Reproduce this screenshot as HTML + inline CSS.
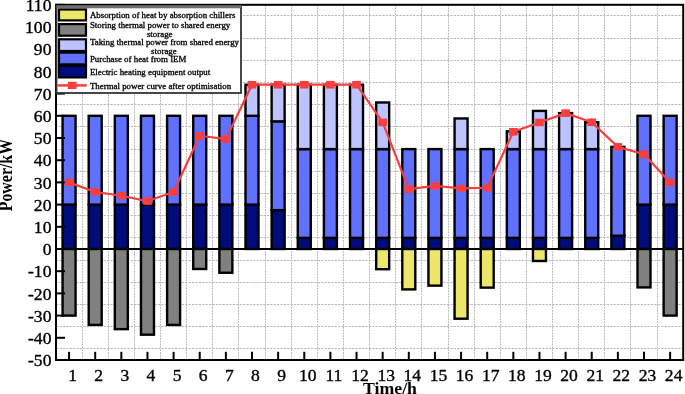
<!DOCTYPE html><html><head><meta charset="utf-8"><style>html,body{margin:0;padding:0;background:#fff;}svg{display:block;will-change:transform;}text{font-family:"Liberation Serif",serif;}</style></head><body>
<svg width="685" height="394" viewBox="0 0 685 394">
<rect width="685" height="394" fill="#fff"/>
<g stroke="#b8b8b8" stroke-width="1" stroke-dasharray="2.2 1.2" fill="none"><line x1="56.0" y1="348.50" x2="683.2" y2="348.50"/><line x1="56.0" y1="326.50" x2="683.2" y2="326.50"/><line x1="56.0" y1="304.50" x2="683.2" y2="304.50"/><line x1="56.0" y1="282.50" x2="683.2" y2="282.50"/><line x1="56.0" y1="260.50" x2="683.2" y2="260.50"/><line x1="56.0" y1="237.50" x2="683.2" y2="237.50"/><line x1="56.0" y1="215.50" x2="683.2" y2="215.50"/><line x1="56.0" y1="193.50" x2="683.2" y2="193.50"/><line x1="56.0" y1="171.50" x2="683.2" y2="171.50"/><line x1="56.0" y1="149.50" x2="683.2" y2="149.50"/><line x1="56.0" y1="126.50" x2="683.2" y2="126.50"/><line x1="56.0" y1="104.50" x2="683.2" y2="104.50"/><line x1="56.0" y1="82.50" x2="683.2" y2="82.50"/><line x1="56.0" y1="60.50" x2="683.2" y2="60.50"/><line x1="56.0" y1="38.50" x2="683.2" y2="38.50"/><line x1="56.0" y1="15.50" x2="683.2" y2="15.50"/></g>
<g stroke="#b8b8b8" stroke-width="1" stroke-dasharray="1.8 1.0" fill="none"><line x1="82.50" y1="4.8" x2="82.50" y2="360.0"/><line x1="108.50" y1="4.8" x2="108.50" y2="360.0"/><line x1="134.50" y1="4.8" x2="134.50" y2="360.0"/><line x1="160.50" y1="4.8" x2="160.50" y2="360.0"/><line x1="186.50" y1="4.8" x2="186.50" y2="360.0"/><line x1="212.50" y1="4.8" x2="212.50" y2="360.0"/><line x1="238.50" y1="4.8" x2="238.50" y2="360.0"/><line x1="265.50" y1="4.8" x2="265.50" y2="360.0"/><line x1="291.50" y1="4.8" x2="291.50" y2="360.0"/><line x1="317.50" y1="4.8" x2="317.50" y2="360.0"/><line x1="343.50" y1="4.8" x2="343.50" y2="360.0"/><line x1="369.50" y1="4.8" x2="369.50" y2="360.0"/><line x1="395.50" y1="4.8" x2="395.50" y2="360.0"/><line x1="421.50" y1="4.8" x2="421.50" y2="360.0"/><line x1="448.50" y1="4.8" x2="448.50" y2="360.0"/><line x1="474.50" y1="4.8" x2="474.50" y2="360.0"/><line x1="500.50" y1="4.8" x2="500.50" y2="360.0"/><line x1="526.50" y1="4.8" x2="526.50" y2="360.0"/><line x1="552.50" y1="4.8" x2="552.50" y2="360.0"/><line x1="578.50" y1="4.8" x2="578.50" y2="360.0"/><line x1="604.50" y1="4.8" x2="604.50" y2="360.0"/><line x1="630.50" y1="4.8" x2="630.50" y2="360.0"/><line x1="657.50" y1="4.8" x2="657.50" y2="360.0"/></g>
<g stroke="#000" stroke-width="2.4"><rect x="62.57" y="204.60" width="13.00" height="44.40" fill="#000c7c"/><rect x="62.57" y="115.80" width="13.00" height="88.80" fill="#6070ff"/><rect x="62.57" y="249.00" width="13.00" height="66.60" fill="#808080"/><rect x="88.70" y="204.60" width="13.00" height="44.40" fill="#000c7c"/><rect x="88.70" y="115.80" width="13.00" height="88.80" fill="#6070ff"/><rect x="88.70" y="249.00" width="13.00" height="75.92" fill="#808080"/><rect x="114.83" y="204.60" width="13.00" height="44.40" fill="#000c7c"/><rect x="114.83" y="115.80" width="13.00" height="88.80" fill="#6070ff"/><rect x="114.83" y="249.00" width="13.00" height="80.14" fill="#808080"/><rect x="140.97" y="204.60" width="13.00" height="44.40" fill="#000c7c"/><rect x="140.97" y="115.80" width="13.00" height="88.80" fill="#6070ff"/><rect x="140.97" y="249.00" width="13.00" height="85.69" fill="#808080"/><rect x="167.10" y="204.60" width="13.00" height="44.40" fill="#000c7c"/><rect x="167.10" y="115.80" width="13.00" height="88.80" fill="#6070ff"/><rect x="167.10" y="249.00" width="13.00" height="75.92" fill="#808080"/><rect x="193.23" y="204.60" width="13.00" height="44.40" fill="#000c7c"/><rect x="193.23" y="115.80" width="13.00" height="88.80" fill="#6070ff"/><rect x="193.23" y="249.00" width="13.00" height="19.98" fill="#808080"/><rect x="219.37" y="204.60" width="13.00" height="44.40" fill="#000c7c"/><rect x="219.37" y="115.80" width="13.00" height="88.80" fill="#6070ff"/><rect x="219.37" y="249.00" width="13.00" height="23.75" fill="#808080"/><rect x="245.50" y="204.60" width="13.00" height="44.40" fill="#000c7c"/><rect x="245.50" y="115.80" width="13.00" height="88.80" fill="#6070ff"/><rect x="245.50" y="84.72" width="13.00" height="31.08" fill="#bcc3ff"/><rect x="271.63" y="210.15" width="13.00" height="38.85" fill="#000c7c"/><rect x="271.63" y="121.35" width="13.00" height="88.80" fill="#6070ff"/><rect x="271.63" y="84.72" width="13.00" height="36.63" fill="#bcc3ff"/><rect x="297.77" y="237.90" width="13.00" height="11.10" fill="#000c7c"/><rect x="297.77" y="149.10" width="13.00" height="88.80" fill="#6070ff"/><rect x="297.77" y="84.72" width="13.00" height="64.38" fill="#bcc3ff"/><rect x="323.90" y="237.90" width="13.00" height="11.10" fill="#000c7c"/><rect x="323.90" y="149.10" width="13.00" height="88.80" fill="#6070ff"/><rect x="323.90" y="84.72" width="13.00" height="64.38" fill="#bcc3ff"/><rect x="350.03" y="237.90" width="13.00" height="11.10" fill="#000c7c"/><rect x="350.03" y="149.10" width="13.00" height="88.80" fill="#6070ff"/><rect x="350.03" y="84.72" width="13.00" height="64.38" fill="#bcc3ff"/><rect x="376.17" y="237.90" width="13.00" height="11.10" fill="#000c7c"/><rect x="376.17" y="149.10" width="13.00" height="88.80" fill="#6070ff"/><rect x="376.17" y="102.48" width="13.00" height="46.62" fill="#bcc3ff"/><rect x="376.17" y="249.00" width="13.00" height="20.20" fill="#ece66b"/><rect x="402.30" y="237.90" width="13.00" height="11.10" fill="#000c7c"/><rect x="402.30" y="149.10" width="13.00" height="88.80" fill="#6070ff"/><rect x="402.30" y="249.00" width="13.00" height="40.40" fill="#ece66b"/><rect x="428.43" y="237.90" width="13.00" height="11.10" fill="#000c7c"/><rect x="428.43" y="149.10" width="13.00" height="88.80" fill="#6070ff"/><rect x="428.43" y="249.00" width="13.00" height="36.63" fill="#ece66b"/><rect x="454.57" y="237.90" width="13.00" height="11.10" fill="#000c7c"/><rect x="454.57" y="149.10" width="13.00" height="88.80" fill="#6070ff"/><rect x="454.57" y="118.46" width="13.00" height="30.64" fill="#bcc3ff"/><rect x="454.57" y="249.00" width="13.00" height="69.71" fill="#ece66b"/><rect x="480.70" y="237.90" width="13.00" height="11.10" fill="#000c7c"/><rect x="480.70" y="149.10" width="13.00" height="88.80" fill="#6070ff"/><rect x="480.70" y="249.00" width="13.00" height="38.63" fill="#ece66b"/><rect x="506.83" y="237.90" width="13.00" height="11.10" fill="#000c7c"/><rect x="506.83" y="149.10" width="13.00" height="88.80" fill="#6070ff"/><rect x="506.83" y="131.34" width="13.00" height="17.76" fill="#bcc3ff"/><rect x="532.97" y="237.90" width="13.00" height="11.10" fill="#000c7c"/><rect x="532.97" y="149.10" width="13.00" height="88.80" fill="#6070ff"/><rect x="532.97" y="110.92" width="13.00" height="38.18" fill="#bcc3ff"/><rect x="532.97" y="249.00" width="13.00" height="11.99" fill="#ece66b"/><rect x="559.10" y="237.90" width="13.00" height="11.10" fill="#000c7c"/><rect x="559.10" y="149.10" width="13.00" height="88.80" fill="#6070ff"/><rect x="559.10" y="113.14" width="13.00" height="35.96" fill="#bcc3ff"/><rect x="585.23" y="237.90" width="13.00" height="11.10" fill="#000c7c"/><rect x="585.23" y="149.10" width="13.00" height="88.80" fill="#6070ff"/><rect x="585.23" y="122.24" width="13.00" height="26.86" fill="#bcc3ff"/><rect x="611.37" y="235.68" width="13.00" height="13.32" fill="#000c7c"/><rect x="611.37" y="146.88" width="13.00" height="88.80" fill="#6070ff"/><rect x="637.50" y="204.60" width="13.00" height="44.40" fill="#000c7c"/><rect x="637.50" y="115.80" width="13.00" height="88.80" fill="#6070ff"/><rect x="637.50" y="249.00" width="13.00" height="38.41" fill="#808080"/><rect x="663.63" y="204.60" width="13.00" height="44.40" fill="#000c7c"/><rect x="663.63" y="115.80" width="13.00" height="88.80" fill="#6070ff"/><rect x="663.63" y="249.00" width="13.00" height="66.60" fill="#808080"/></g>
<line x1="56.0" y1="249.00" x2="683.2" y2="249.00" stroke="#000" stroke-width="2"/>
<g stroke="#000" stroke-width="2"><line x1="56.0" y1="360.00" x2="65.00" y2="360.00"/><line x1="56.0" y1="337.80" x2="65.00" y2="337.80"/><line x1="56.0" y1="315.60" x2="65.00" y2="315.60"/><line x1="56.0" y1="293.40" x2="65.00" y2="293.40"/><line x1="56.0" y1="271.20" x2="65.00" y2="271.20"/><line x1="56.0" y1="249.00" x2="65.00" y2="249.00"/><line x1="56.0" y1="226.80" x2="65.00" y2="226.80"/><line x1="56.0" y1="204.60" x2="65.00" y2="204.60"/><line x1="56.0" y1="182.40" x2="65.00" y2="182.40"/><line x1="56.0" y1="160.20" x2="65.00" y2="160.20"/><line x1="56.0" y1="138.00" x2="65.00" y2="138.00"/><line x1="56.0" y1="115.80" x2="65.00" y2="115.80"/><line x1="56.0" y1="93.60" x2="65.00" y2="93.60"/><line x1="56.0" y1="71.40" x2="65.00" y2="71.40"/><line x1="56.0" y1="49.20" x2="65.00" y2="49.20"/><line x1="56.0" y1="27.00" x2="65.00" y2="27.00"/><line x1="56.0" y1="4.80" x2="65.00" y2="4.80"/><line x1="69.07" y1="360.0" x2="69.07" y2="351.80"/><line x1="95.20" y1="360.0" x2="95.20" y2="351.80"/><line x1="121.33" y1="360.0" x2="121.33" y2="351.80"/><line x1="147.47" y1="360.0" x2="147.47" y2="351.80"/><line x1="173.60" y1="360.0" x2="173.60" y2="351.80"/><line x1="199.73" y1="360.0" x2="199.73" y2="351.80"/><line x1="225.87" y1="360.0" x2="225.87" y2="351.80"/><line x1="252.00" y1="360.0" x2="252.00" y2="351.80"/><line x1="278.13" y1="360.0" x2="278.13" y2="351.80"/><line x1="304.27" y1="360.0" x2="304.27" y2="351.80"/><line x1="330.40" y1="360.0" x2="330.40" y2="351.80"/><line x1="356.53" y1="360.0" x2="356.53" y2="351.80"/><line x1="382.67" y1="360.0" x2="382.67" y2="351.80"/><line x1="408.80" y1="360.0" x2="408.80" y2="351.80"/><line x1="434.93" y1="360.0" x2="434.93" y2="351.80"/><line x1="461.07" y1="360.0" x2="461.07" y2="351.80"/><line x1="487.20" y1="360.0" x2="487.20" y2="351.80"/><line x1="513.33" y1="360.0" x2="513.33" y2="351.80"/><line x1="539.47" y1="360.0" x2="539.47" y2="351.80"/><line x1="565.60" y1="360.0" x2="565.60" y2="351.80"/><line x1="591.73" y1="360.0" x2="591.73" y2="351.80"/><line x1="617.87" y1="360.0" x2="617.87" y2="351.80"/><line x1="644.00" y1="360.0" x2="644.00" y2="351.80"/><line x1="670.13" y1="360.0" x2="670.13" y2="351.80"/></g>
<polyline points="69.07,182.40 95.20,191.95 121.33,195.72 147.47,201.05 173.60,191.95 199.73,135.78 225.87,139.11 252.00,84.72 278.13,84.72 304.27,84.72 330.40,84.72 356.53,84.72 382.67,122.46 408.80,189.06 434.93,185.95 461.07,188.39 487.20,187.73 513.33,131.78 539.47,122.46 565.60,113.14 591.73,122.24 617.87,146.88 644.00,154.21 670.13,182.40" fill="none" stroke="#f83e3e" stroke-width="2.2" stroke-linejoin="round"/>
<g fill="#f83e3e"><rect x="64.77" y="178.60" width="8.6" height="7.6"/><rect x="90.90" y="188.15" width="8.6" height="7.6"/><rect x="117.03" y="191.92" width="8.6" height="7.6"/><rect x="143.17" y="197.25" width="8.6" height="7.6"/><rect x="169.30" y="188.15" width="8.6" height="7.6"/><rect x="195.43" y="131.98" width="8.6" height="7.6"/><rect x="221.57" y="135.31" width="8.6" height="7.6"/><rect x="247.70" y="80.92" width="8.6" height="7.6"/><rect x="273.83" y="80.92" width="8.6" height="7.6"/><rect x="299.97" y="80.92" width="8.6" height="7.6"/><rect x="326.10" y="80.92" width="8.6" height="7.6"/><rect x="352.23" y="80.92" width="8.6" height="7.6"/><rect x="378.37" y="118.66" width="8.6" height="7.6"/><rect x="404.50" y="185.26" width="8.6" height="7.6"/><rect x="430.63" y="182.15" width="8.6" height="7.6"/><rect x="456.77" y="184.59" width="8.6" height="7.6"/><rect x="482.90" y="183.93" width="8.6" height="7.6"/><rect x="509.03" y="127.98" width="8.6" height="7.6"/><rect x="535.17" y="118.66" width="8.6" height="7.6"/><rect x="561.30" y="109.34" width="8.6" height="7.6"/><rect x="587.43" y="118.44" width="8.6" height="7.6"/><rect x="613.57" y="143.08" width="8.6" height="7.6"/><rect x="639.70" y="150.41" width="8.6" height="7.6"/><rect x="665.83" y="178.60" width="8.6" height="7.6"/></g>
<rect x="56.0" y="4.8" width="627.20" height="355.20" fill="none" stroke="#000" stroke-width="2"/>
<rect x="56.5" y="6" width="184.50" height="87.00" fill="#fff" stroke="#333" stroke-width="1.8"/>
<rect x="56.5" y="5.3" width="184.50" height="3.0" fill="#6e6e6e"/>
<rect x="59" y="9.5" width="27" height="10.899999999999999" fill="#ece66b" stroke="#000" stroke-width="2.2"/>
<rect x="59" y="24.1" width="27" height="11.600000000000001" fill="#808080" stroke="#000" stroke-width="2.2"/>
<rect x="59" y="39.3" width="27" height="11.700000000000003" fill="#bcc3ff" stroke="#000" stroke-width="2.2"/>
<rect x="59" y="52.6" width="27" height="11.800000000000004" fill="#6070ff" stroke="#000" stroke-width="2.2"/>
<rect x="59" y="65.8" width="27" height="11.600000000000009" fill="#000c7c" stroke="#000" stroke-width="2.2"/>
<line x1="57.5" y1="85.4" x2="86.7" y2="85.4" stroke="#f83e3e" stroke-width="2.5"/>
<rect x="67.8" y="81.8" width="8.8" height="7.2" fill="#f83e3e"/>
<text transform="translate(89.9,17.8) scale(1.07,1)" font-size="8.3" stroke="#000" stroke-width="0.3">Absorption of heat by absorption chillers</text>
<text transform="translate(89.9,27.6) scale(1.07,1)" font-size="8.3" stroke="#000" stroke-width="0.3">Storing thermal power to shared energy</text>
<text transform="translate(159.7,37.3) scale(1.07,1)" font-size="8.3" text-anchor="middle" stroke="#000" stroke-width="0.3">storage</text>
<text transform="translate(89.9,44.6) scale(1.07,1)" font-size="8.3" stroke="#000" stroke-width="0.3">Taking thermal power from shared energy</text>
<text transform="translate(163.9,53.9) scale(1.07,1)" font-size="8.3" text-anchor="middle" stroke="#000" stroke-width="0.3">storage</text>
<text transform="translate(89.9,61.9) scale(1.07,1)" font-size="8.3" stroke="#000" stroke-width="0.3">Purchase of heat from IEM</text>
<text transform="translate(89.9,75.2) scale(1.07,1)" font-size="8.3" stroke="#000" stroke-width="0.3">Electric heating equipment output</text>
<text transform="translate(89.9,88.9) scale(1.07,1)" font-size="8.3" stroke="#000" stroke-width="0.3">Thermal power curve after optimisation</text>
<text transform="translate(51.4,366.20) scale(1.07,1)" font-size="16.4" text-anchor="end" stroke="#000" stroke-width="0.35">-50</text>
<text transform="translate(51.4,344.00) scale(1.07,1)" font-size="16.4" text-anchor="end" stroke="#000" stroke-width="0.35">-40</text>
<text transform="translate(51.4,321.80) scale(1.07,1)" font-size="16.4" text-anchor="end" stroke="#000" stroke-width="0.35">-30</text>
<text transform="translate(51.4,299.60) scale(1.07,1)" font-size="16.4" text-anchor="end" stroke="#000" stroke-width="0.35">-20</text>
<text transform="translate(51.4,277.40) scale(1.07,1)" font-size="16.4" text-anchor="end" stroke="#000" stroke-width="0.35">-10</text>
<text transform="translate(51.4,255.20) scale(1.07,1)" font-size="16.4" text-anchor="end" stroke="#000" stroke-width="0.35">0</text>
<text transform="translate(51.4,233.00) scale(1.07,1)" font-size="16.4" text-anchor="end" stroke="#000" stroke-width="0.35">10</text>
<text transform="translate(51.4,210.80) scale(1.07,1)" font-size="16.4" text-anchor="end" stroke="#000" stroke-width="0.35">20</text>
<text transform="translate(51.4,188.60) scale(1.07,1)" font-size="16.4" text-anchor="end" stroke="#000" stroke-width="0.35">30</text>
<text transform="translate(51.4,166.40) scale(1.07,1)" font-size="16.4" text-anchor="end" stroke="#000" stroke-width="0.35">40</text>
<text transform="translate(51.4,144.20) scale(1.07,1)" font-size="16.4" text-anchor="end" stroke="#000" stroke-width="0.35">50</text>
<text transform="translate(51.4,122.00) scale(1.07,1)" font-size="16.4" text-anchor="end" stroke="#000" stroke-width="0.35">60</text>
<text transform="translate(51.4,99.80) scale(1.07,1)" font-size="16.4" text-anchor="end" stroke="#000" stroke-width="0.35">70</text>
<text transform="translate(51.4,77.60) scale(1.07,1)" font-size="16.4" text-anchor="end" stroke="#000" stroke-width="0.35">80</text>
<text transform="translate(51.4,55.40) scale(1.07,1)" font-size="16.4" text-anchor="end" stroke="#000" stroke-width="0.35">90</text>
<text transform="translate(51.4,33.20) scale(1.07,1)" font-size="16.4" text-anchor="end" stroke="#000" stroke-width="0.35">100</text>
<text transform="translate(51.4,11.00) scale(1.07,1)" font-size="16.4" text-anchor="end" stroke="#000" stroke-width="0.35">110</text>
<text transform="translate(72.57,381) scale(1.07,1)" font-size="16.4" text-anchor="middle" stroke="#000" stroke-width="0.35">1</text>
<text transform="translate(98.70,381) scale(1.07,1)" font-size="16.4" text-anchor="middle" stroke="#000" stroke-width="0.35">2</text>
<text transform="translate(124.83,381) scale(1.07,1)" font-size="16.4" text-anchor="middle" stroke="#000" stroke-width="0.35">3</text>
<text transform="translate(150.97,381) scale(1.07,1)" font-size="16.4" text-anchor="middle" stroke="#000" stroke-width="0.35">4</text>
<text transform="translate(177.10,381) scale(1.07,1)" font-size="16.4" text-anchor="middle" stroke="#000" stroke-width="0.35">5</text>
<text transform="translate(203.23,381) scale(1.07,1)" font-size="16.4" text-anchor="middle" stroke="#000" stroke-width="0.35">6</text>
<text transform="translate(229.37,381) scale(1.07,1)" font-size="16.4" text-anchor="middle" stroke="#000" stroke-width="0.35">7</text>
<text transform="translate(255.50,381) scale(1.07,1)" font-size="16.4" text-anchor="middle" stroke="#000" stroke-width="0.35">8</text>
<text transform="translate(281.63,381) scale(1.07,1)" font-size="16.4" text-anchor="middle" stroke="#000" stroke-width="0.35">9</text>
<text transform="translate(307.77,381) scale(1.07,1)" font-size="16.4" text-anchor="middle" stroke="#000" stroke-width="0.35">10</text>
<text transform="translate(333.90,381) scale(1.07,1)" font-size="16.4" text-anchor="middle" stroke="#000" stroke-width="0.35">11</text>
<text transform="translate(360.03,381) scale(1.07,1)" font-size="16.4" text-anchor="middle" stroke="#000" stroke-width="0.35">12</text>
<text transform="translate(386.17,381) scale(1.07,1)" font-size="16.4" text-anchor="middle" stroke="#000" stroke-width="0.35">13</text>
<text transform="translate(412.30,381) scale(1.07,1)" font-size="16.4" text-anchor="middle" stroke="#000" stroke-width="0.35">14</text>
<text transform="translate(438.43,381) scale(1.07,1)" font-size="16.4" text-anchor="middle" stroke="#000" stroke-width="0.35">15</text>
<text transform="translate(464.57,381) scale(1.07,1)" font-size="16.4" text-anchor="middle" stroke="#000" stroke-width="0.35">16</text>
<text transform="translate(490.70,381) scale(1.07,1)" font-size="16.4" text-anchor="middle" stroke="#000" stroke-width="0.35">17</text>
<text transform="translate(516.83,381) scale(1.07,1)" font-size="16.4" text-anchor="middle" stroke="#000" stroke-width="0.35">18</text>
<text transform="translate(542.97,381) scale(1.07,1)" font-size="16.4" text-anchor="middle" stroke="#000" stroke-width="0.35">19</text>
<text transform="translate(569.10,381) scale(1.07,1)" font-size="16.4" text-anchor="middle" stroke="#000" stroke-width="0.35">20</text>
<text transform="translate(595.23,381) scale(1.07,1)" font-size="16.4" text-anchor="middle" stroke="#000" stroke-width="0.35">21</text>
<text transform="translate(621.37,381) scale(1.07,1)" font-size="16.4" text-anchor="middle" stroke="#000" stroke-width="0.35">22</text>
<text transform="translate(647.50,381) scale(1.07,1)" font-size="16.4" text-anchor="middle" stroke="#000" stroke-width="0.35">23</text>
<text transform="translate(673.63,381) scale(1.07,1)" font-size="16.4" text-anchor="middle" stroke="#000" stroke-width="0.35">24</text>
<text transform="translate(390.0,394.3) scale(1.07,1)" font-size="16.6" font-weight="bold" text-anchor="middle">Time/h</text>
<text transform="translate(12.3,175.1) scale(1.18,1) rotate(-90)" x="0" y="0" font-size="15.9" font-weight="bold" text-anchor="middle">Power/kW</text>
</svg></body></html>
